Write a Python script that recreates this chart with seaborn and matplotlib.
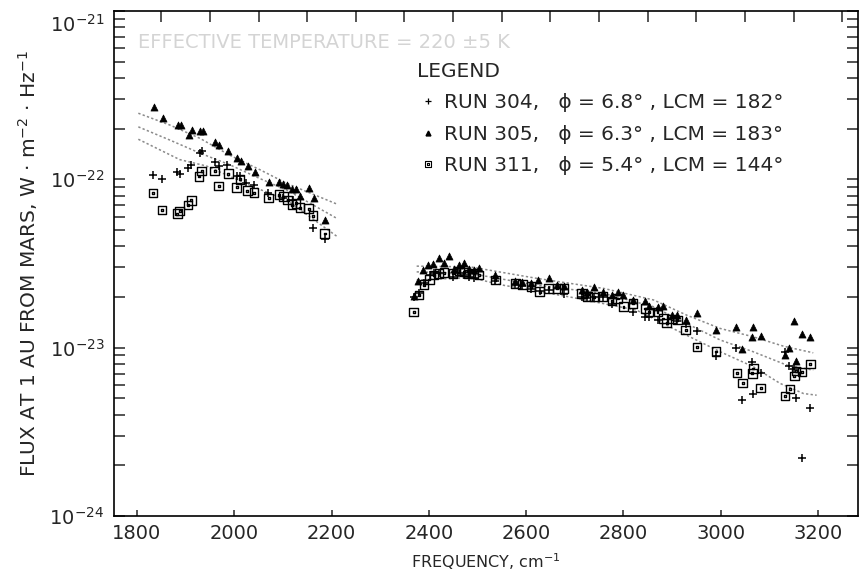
import numpy as np
import pandas as pd
import matplotlib
matplotlib.use("Agg")
import matplotlib.pyplot as plt
import matplotlib.transforms as mtransforms
from matplotlib.path import Path
from matplotlib.lines import Line2D
from matplotlib.ticker import FixedLocator, NullFormatter, LogFormatterSciNotation
import seaborn as sns

# ---------------- data (frequency in cm^-1, flux in units of 1e-23 W m^-2 Hz^-1) -------------
FLUX_UNIT = 1e-23

run304_freq = [1833, 1852, 1883, 1888, 1905, 1912, 1929, 1934, 1960, 1968, 1986, 2005, 2012,
               2025, 2041, 2070, 2101, 2120, 2162, 2186,
               2370, 2380, 2391, 2402, 2411, 2421, 2450, 2463, 2473, 2482, 2493, 2537, 2578,
               2592, 2610, 2628, 2646, 2678, 2714, 2726, 2740, 2757, 2776, 2820, 2844, 2853,
               2870, 2911, 2928, 2951, 2990, 3031, 3044, 3064, 3066, 3082, 3132, 3140, 3151,
               3155, 3167, 3184]
run304_flux = [10.6, 10.1, 11.0, 10.8, 11.6, 12.1, 14.3, 14.8, 12.7, 12.0, 12.1, 10.4, 10.5,
               9.55, 9.21, 8.33, 7.71, 7.53, 5.11, 4.42,
               2.00, 2.12, 2.43, 2.70, 2.76, 2.76, 2.64, 2.76, 2.70, 2.64, 2.61, 2.50, 2.35,
               2.32, 2.22, 2.18, 2.20, 2.08, 1.99, 1.96, 1.99, 1.99, 1.81, 1.63, 1.53, 1.52,
               1.47, 1.44, 1.39, 1.25, 0.890, 0.989, 0.488, 0.824, 0.534, 0.709, 0.945, 0.777,
               0.752, 0.499, 0.2225, 0.441]

run305_freq = [1836, 1854, 1885, 1890, 1914, 1908, 1929, 1935, 1960, 1968, 1988, 2005, 2013,
               2028, 2042, 2071, 2092, 2101, 2109, 2119, 2127, 2135, 2153, 2164, 2186,
               2370, 2378, 2389, 2399, 2409, 2421, 2431, 2441, 2452, 2463, 2473, 2482, 2493,
               2503, 2537, 2578, 2592, 2610, 2625, 2646, 2664, 2678, 2714, 2726, 2740, 2757,
               2776, 2788, 2800, 2820, 2844, 2853, 2870, 2882, 2899, 2911, 2928, 2951, 2990,
               3031, 3044, 3064, 3066, 3082, 3132, 3140, 3150, 3155, 3167, 3184]
run305_flux = [26.8, 23.1, 21.0, 20.9, 19.7, 18.4, 19.3, 19.3, 16.7, 15.9, 14.8, 13.3, 12.9,
               12.0, 11.0, 9.64, 9.64, 9.42, 9.25, 8.80, 8.76, 7.99, 8.88, 7.74, 5.70,
               2.02, 2.50, 2.89, 3.09, 3.12, 3.39, 3.17, 3.50, 2.95, 3.09, 3.17, 2.95, 2.91,
               2.98, 2.72, 2.50, 2.46, 2.41, 2.54, 2.58, 2.35, 2.32, 2.20, 2.15, 2.28, 2.15,
               2.05, 2.15, 2.05, 1.92, 1.90, 1.77, 1.75, 1.77, 1.56, 1.56, 1.46, 1.60, 1.28,
               1.32, 0.980, 1.16, 1.32, 1.18, 0.903, 0.989, 1.44, 0.835, 1.21, 1.16]

run311_freq = [1833, 1852, 1883, 1888, 1905, 1912, 1928, 1933, 1960, 1968, 1988, 2005, 2012,
               2027, 2041, 2071, 2092, 2101, 2110, 2119, 2127, 2135, 2153, 2162, 2186,
               2369, 2380, 2390, 2401, 2411, 2421, 2431, 2450, 2463, 2473, 2482, 2493, 2503,
               2537, 2578, 2592, 2610, 2628, 2646, 2664, 2678, 2714, 2726, 2740, 2757, 2776,
               2788, 2800, 2820, 2844, 2853, 2870, 2882, 2889, 2899, 2911, 2928, 2951, 2990,
               3033, 3045, 3065, 3067, 3082, 3132, 3142, 3151, 3155, 3167, 3184]
run311_flux = [8.29, 6.57, 6.25, 6.48, 7.04, 7.50, 10.4, 11.2, 11.2, 9.13, 10.8, 8.96, 10.0,
               8.56, 8.33, 7.74, 8.10, 7.88, 7.53, 7.07, 7.20, 6.78, 6.69, 6.08, 4.77,
               1.63, 2.05, 2.37, 2.54, 2.70, 2.76, 2.79, 2.76, 2.85, 2.82, 2.74, 2.76, 2.70,
               2.52, 2.41, 2.38, 2.30, 2.15, 2.25, 2.25, 2.25, 2.10, 2.02, 2.00, 2.02, 1.89,
               1.96, 1.75, 1.83, 1.71, 1.63, 1.63, 1.49, 1.40, 1.48, 1.46, 1.27, 1.01, 0.949,
               0.709, 0.618, 0.703, 0.752, 0.577, 0.515, 0.567, 0.680, 0.725, 0.719, 0.798]

# model curves (dotted lines), low band and high band
low_upper_freq = [1803, 1868, 1930, 1991, 2053, 2108, 2211]
low_upper_flux = [24.7, 21.0, 17.5, 13.9, 11.4, 9.46, 7.13]
low_mid_freq = [1803, 1868, 1930, 1991, 2053, 2108, 2211]
low_mid_flux = [20.5, 17.1, 14.3, 12.2, 10.1, 8.64, 5.86]
low_lower_freq = [1803, 1888, 1943, 2039, 2108, 2214]
low_lower_flux = [17.3, 13.1, 12.0, 9.04, 7.53, 4.52]

high_upper_freq = [2375, 2485, 2622, 2759, 2862, 2930, 2999, 3067, 3129, 3190]
high_upper_flux = [3.05, 3.02, 2.58, 2.25, 1.92, 1.56, 1.30, 1.16, 1.02, 0.932]
high_mid_freq = [2375, 2485, 2622, 2759, 2862, 2930, 2999, 3067, 3136, 3190]
high_mid_flux = [2.82, 2.76, 2.35, 2.10, 1.75, 1.39, 1.11, 0.945, 0.787, 0.735]
high_lower_freq = [2375, 2485, 2553, 2690, 2827, 2916, 2999, 3067, 3122, 3170, 3197]
high_lower_flux = [2.52, 2.61, 2.35, 2.00, 1.67, 1.24, 0.945, 0.770, 0.613, 0.534, 0.522]

legend_labels = ["RUN 304,   \u03d5 = 6.8\u00b0 , LCM = 182\u00b0",
                 "RUN 305,   \u03d5 = 6.3\u00b0 , LCM = 183\u00b0",
                 "RUN 311,   \u03d5 = 5.4\u00b0 , LCM = 144\u00b0"]
x_ticks = [1800, 2000, 2200, 2400, 2600, 2800, 3000, 3200]
top_ticks = [1850, 1950, 2050, 2150, 2250, 2350, 2450, 2550, 2650, 2750, 2850, 2950,
             3050, 3150, 3250]
y_decades = [1e-24, 1e-23, 1e-22, 1e-21]

# ---------------- style ----------------
sns.set_style("ticks")
plt.rcParams['font.family'] = ['DejaVu Sans']
plt.rcParams['mathtext.fontset'] = 'dejavusans'

W, H = 861, 588
fig = plt.figure(figsize=(W / 100, H / 100), dpi=100)
ax = fig.add_axes([114 / W, 1 - 516 / H, (858 - 114) / W, (516 - 11) / H])

# open square with centre dot
sq_verts = [(-1, -1), (1, -1), (1, 1), (-1, 1), (-1, -1),
            (-0.22, -0.22), (0.22, -0.22), (0.22, 0.22), (-0.22, 0.22), (-0.22, -0.22)]
sq_codes = [Path.MOVETO, Path.LINETO, Path.LINETO, Path.LINETO, Path.CLOSEPOLY] * 2
square_dot = Path(sq_verts, sq_codes)

line_kw = dict(color="#8a8a8a", linewidth=1.1, linestyle=(0, (1.5, 1.5)), estimator=None, sort=False)
for fx, fy in [(low_upper_freq, low_upper_flux), (low_mid_freq, low_mid_flux),
               (low_lower_freq, low_lower_flux), (high_upper_freq, high_upper_flux),
               (high_mid_freq, high_mid_flux), (high_lower_freq, high_lower_flux)]:
    d = pd.DataFrame({"f": fx, "v": np.array(fy) * FLUX_UNIT})
    sns.lineplot(data=d, x="f", y="v", ax=ax, **line_kw)

d304 = pd.DataFrame({"f": run304_freq, "v": np.array(run304_flux) * FLUX_UNIT})
d305 = pd.DataFrame({"f": run305_freq, "v": np.array(run305_flux) * FLUX_UNIT})
d311 = pd.DataFrame({"f": run311_freq, "v": np.array(run311_flux) * FLUX_UNIT})

sns.scatterplot(data=d311, x="f", y="v", ax=ax, marker=square_dot, s=38,
                facecolor="none", edgecolor="black", linewidth=1.0, zorder=3)
sns.scatterplot(data=d304, x="f", y="v", ax=ax, marker="+", s=40,
                color="black", linewidth=1.1, zorder=4)
sns.scatterplot(data=d305, x="f", y="v", ax=ax, marker="^", s=26,
                color="black", edgecolor="black", linewidth=0.5, zorder=5)

ax.set_yscale("log")
ax.set_ylim(1e-24, 1e-21)
ax.set_xlim(1753, 3282)

minor_y = [m * d for d in y_decades[:-1] for m in range(2, 10)]
ax.yaxis.set_major_locator(FixedLocator(y_decades))
ax.yaxis.set_major_formatter(LogFormatterSciNotation())
ax.yaxis.set_minor_locator(FixedLocator(minor_y))
ax.yaxis.set_minor_formatter(NullFormatter())
ax.tick_params(axis="y", which="both", direction="in", left=True, right=True,
               length=8, width=1.1, labelsize=14, pad=7)

ax.xaxis.set_major_locator(FixedLocator(x_ticks))
ax.xaxis.set_minor_locator(FixedLocator(top_ticks))
ax.xaxis.set_minor_formatter(NullFormatter())
ax.tick_params(axis="x", which="major", direction="in", top=False, bottom=True,
               length=4, width=1.1, labelsize=14, pad=6)
ax.tick_params(axis="x", which="minor", direction="in", top=True, bottom=False,
               length=8, width=1.1)

for sp in ax.spines.values():
    sp.set_linewidth(1.2)
    sp.set_color("black")

ax.set_xlabel("FREQUENCY, cm$^{-1}$", fontsize=11.5, labelpad=6)
ax.set_ylabel("FLUX AT 1 AU FROM MARS, W \u00b7 m$^{-2}$ \u00b7 Hz$^{-1}$", fontsize=14.5, labelpad=7)

ax.text((138 - 114) / 744, (516 - 42) / 505, "EFFECTIVE TEMPERATURE = 220 \u00b15 K",
        transform=ax.transAxes, fontsize=14, color="#d4d4d4", va="center", ha="left")

handles = [Line2D([], [], ls="none", marker="+", color="black", markersize=4, mew=0.9),
           Line2D([], [], ls="none", marker="^", color="black", markersize=3.5),
           Line2D([], [], ls="none", marker=square_dot, mfc="none", mec="black", markersize=5, mew=0.8)]
leg = ax.legend(handles, legend_labels, title="LEGEND", loc="upper left",
                bbox_to_anchor=((417 - 114) / 744, (516 - 62) / 505), frameon=False,
                borderpad=0, borderaxespad=0, handlelength=1.1, handletextpad=0.25,
                labelspacing=0.62, fontsize=14.5, title_fontsize=14.5, alignment="left")

# keep the top decade label inside the figure (in the reference it sits just below the tick)
fig.canvas.draw()
for lab in ax.get_yticklabels():
    if abs(lab.get_position()[1] - 1e-21) < 1e-25:
        lab.set_transform(lab.get_transform() +
                          mtransforms.ScaledTranslation(0, -12 / 100, fig.dpi_scale_trans))

fig.savefig("out.png", dpi=100)
